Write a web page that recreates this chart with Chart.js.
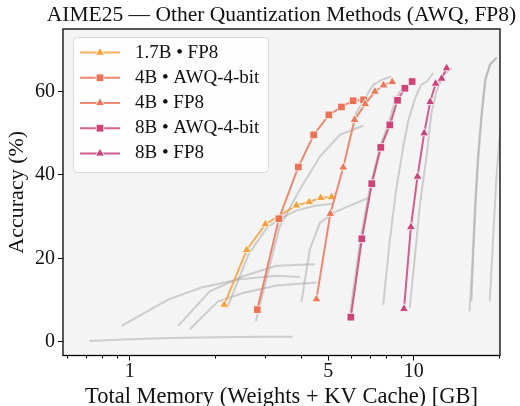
<!DOCTYPE html>
<html>
<head>
<meta charset="utf-8">
<script src="https://cdn.jsdelivr.net/npm/chart.js@4.4.1/dist/chart.umd.min.js"></script>
<style>
  html, body { margin: 0; padding: 0; background: #ffffff; }
  #wrap { width: 520px; height: 406px; }
</style>
</head>
<body>
<div id="wrap"><canvas id="chart" width="520" height="406"></canvas></div>
<script>
// ---- Series: total memory (GB) vs AIME25 accuracy (%) ----
const chartTitle = 'AIME25 — Other Quantization Methods (AWQ, FP8)';
const seriesLabels = ['1.7B • FP8', '4B • AWQ-4-bit', '4B • FP8', '8B • AWQ-4-bit', '8B • FP8'];

const mem17bFp8 = [2.15, 2.58, 3.0, 3.86, 4.28, 4.70, 5.13];
const acc17bFp8 = [8.9, 22.0, 28.2, 32.7, 33.5, 34.5, 34.7];

const mem4bAwq = [2.81, 3.35, 3.92, 4.44, 5.02, 5.56, 6.11, 6.65];
const acc4bAwq = [7.7, 29.5, 41.9, 49.6, 54.4, 56.3, 57.8, 58.0];

const mem4bFp8 = [4.54, 5.08, 5.64, 6.18, 6.74, 7.29, 7.82, 8.39];
const acc4bFp8 = [10.2, 30.7, 41.8, 53.2, 57.0, 60.0, 61.5, 62.3];

const mem8bAwq = [6.0, 6.56, 7.11, 7.65, 8.23, 8.76, 9.30, 9.86];
const acc8bAwq = [5.9, 24.7, 37.9, 46.6, 52.0, 57.9, 60.8, 62.4];

const mem8bFp8 = [9.23, 9.76, 10.3, 10.87, 11.41, 11.93, 12.52, 13.04];
const acc8bFp8 = [7.9, 27.5, 39.6, 50.0, 57.5, 61.9, 63.1, 65.6];

// Faint context curves (other model / precision configurations)
const contextMemory = [
  [0.72, 1.0, 1.4, 2.0, 3.0, 3.74],
  [0.935, 1.364, 1.788, 2.44, 3.28, 3.97],
  [1.479, 1.912, 2.506, 3.28, 4.48],
  [1.626, 2.046, 2.506, 3.28, 4.54],
  [2.2, 2.62, 3.05, 3.5, 3.9, 4.5, 5.2],
  [2.78, 3.05, 3.37, 3.97, 4.67, 5.49, 6.63],
  [4.02, 4.30, 4.67, 5.20, 5.8, 6.9],
  [6.1, 6.6, 7.19, 7.7, 8.34],
  [5.97, 6.48, 7.03, 7.58, 8.15, 8.65, 9.15],
  [7.8, 8.22, 8.68, 9.16, 9.54, 10.1, 10.6, 11.1, 11.7],
  [9.67, 10.1, 10.5, 11.1, 11.5, 12.0, 12.7, 13.6],
  [15.7, 16.0, 16.4, 16.8, 17.3, 17.8, 18.5, 19.5],
  [15.95, 16.15, 16.5, 16.9, 17.4, 17.9, 18.6, 19.6],
  [18.5, 19.0, 19.5, 20.0, 20.8, 21.5]
];
const contextAccuracy = [
  [0.2, 0.6, 0.9, 1.1, 1.2, 1.2],
  [3.8, 10.1, 13.0, 15.0, 15.8, 15.5],
  [3.8, 12.1, 15.7, 18.2, 18.6],
  [3.0, 9.7, 11.7, 13.5, 14.2],
  [8.0, 21.0, 27.5, 30.0, 31.6, 32.6, 33.1],
  [5.0, 16.0, 27.6, 36.5, 44.4, 49.6, 51.8],
  [9.5, 22.1, 28.5, 30.9, 32.3, 34.5],
  [53.5, 57.5, 61.6, 62.8, 63.6],
  [7.0, 24.5, 37.5, 46.5, 52.5, 58.5, 61.0],
  [8.9, 24.1, 36.9, 46.4, 52.8, 58.4, 61.6, 62.4, 64.4],
  [8.1, 20.9, 32.9, 44.8, 54.4, 60.0, 64.0, 65.6],
  [7.3, 16.5, 32.4, 44.4, 54.8, 62.8, 66.4, 68.0],
  [9.8, 19.5, 33.0, 45.0, 55.2, 63.0, 66.6, 68.2],
  [9.7, 24.5, 38.8, 48.4, 58.0, 64.0]
];

// Axis ticks
const xTickValues = [1, 5, 10];
const xMinorTickValues = [0.6, 0.7, 0.8, 0.9, 2, 3, 4, 6, 7, 8, 9, 20];
const yTickValues = [0, 20, 40, 60];

const SERIF = '"Liberation Serif", "Times New Roman", "DejaVu Serif", serif';

const seriesMemory = [mem17bFp8, mem4bAwq, mem4bFp8, mem8bAwq, mem8bFp8];
const seriesAccuracy = [acc17bFp8, acc4bAwq, acc4bFp8, acc8bAwq, acc8bFp8];
const seriesColor = ['#F7A13B', '#EC7256', '#EC7659', '#CE4477', '#CA4378'];
const seriesLineColor = ['rgba(247,161,59,0.85)', 'rgba(236,114,86,0.85)', 'rgba(236,118,89,0.85)',
                         'rgba(206,68,119,0.85)', 'rgba(202,67,120,0.85)'];
const seriesMarker = ['triangle', 'rect', 'triangle', 'rect', 'triangle'];
const markerRadius = { triangle: 5.2, rect: 5.4 };

const toPoints = (xs, ys) => xs.map((x, i) => ({ x: x, y: ys[i] }));

const datasets = [];
seriesLabels.forEach((label, i) => {
  datasets.push({
    label: label,
    data: toPoints(seriesMemory[i], seriesAccuracy[i]),
    borderColor: seriesLineColor[i],
    backgroundColor: seriesColor[i],
    borderWidth: 2,
    pointStyle: seriesMarker[i],
    pointRadius: markerRadius[seriesMarker[i]],
    pointBackgroundColor: seriesColor[i],
    pointBorderColor: '#ffffff',
    pointBorderWidth: 0.8,
    tension: 0,
    order: 5 - i
  });
});
contextMemory.forEach((xs, i) => {
  datasets.push({
    label: '',
    data: toPoints(xs, contextAccuracy[i]),
    borderColor: 'rgba(165,165,165,0.5)',
    borderWidth: 2,
    pointRadius: 0,
    tension: 0,
    clip: 0,
    order: 20
  });
});

// Light plot-area fill
const plotBackground = {
  id: 'plotBackground',
  beforeDraw(chart) {
    const { ctx, chartArea: a } = chart;
    ctx.save();
    ctx.fillStyle = '#f4f4f4';
    ctx.fillRect(a.left, a.top, a.right - a.left, a.bottom - a.top);
    ctx.restore();
  }
};

// Title centred over the plot area
const plotTitle = {
  id: 'plotTitle',
  afterDraw(chart) {
    const { ctx, chartArea: a } = chart;
    ctx.save();
    ctx.fillStyle = '#111';
    ctx.font = '21.5px ' + SERIF;
    ctx.textAlign = 'center';
    ctx.textBaseline = 'alphabetic';
    ctx.fillText(chartTitle, (a.left + a.right) / 2, 20.5);
    ctx.restore();
  }
};

// Axes frame and minor log ticks
const frameAndMinorTicks = {
  id: 'frameAndMinorTicks',
  afterDatasetsDraw(chart) {
    const { ctx, chartArea: a, scales } = chart;
    ctx.save();
    ctx.strokeStyle = '#000';
    ctx.lineWidth = 1;
    xMinorTickValues.forEach(v => {
      const px = Math.round(scales.x.getPixelForValue(v)) + 0.5;
      ctx.beginPath();
      ctx.moveTo(px, a.bottom);
      ctx.lineTo(px, a.bottom + 3);
      ctx.stroke();
    });
    ctx.lineWidth = 1.3;
    ctx.strokeRect(a.left, a.top, a.right - a.left, a.bottom - a.top);
    ctx.restore();
  }
};

// Legend box in the upper-left of the plot
const insetLegend = {
  id: 'insetLegend',
  afterDraw(chart) {
    const { ctx } = chart;
    const box = { x: 73, y: 37, w: 195, h: 135, r: 4 };
    ctx.save();
    ctx.beginPath();
    ctx.roundRect(box.x + 0.5, box.y + 0.5, box.w, box.h, box.r);
    ctx.fillStyle = 'rgba(255,255,255,0.85)';
    ctx.fill();
    ctx.strokeStyle = '#d9d9d9';
    ctx.lineWidth = 1;
    ctx.stroke();
    seriesLabels.forEach((label, i) => {
      const cy = 52.6 + i * 25.2;
      ctx.beginPath();
      ctx.strokeStyle = seriesLineColor[i];
      ctx.lineWidth = 2;
      ctx.moveTo(80, cy);
      ctx.lineTo(120, cy);
      ctx.stroke();
      ctx.fillStyle = seriesColor[i];
      ctx.strokeStyle = '#ffffff';
      ctx.lineWidth = 0.8;
      Chart.helpers.drawPoint(ctx, {
        pointStyle: seriesMarker[i],
        radius: markerRadius[seriesMarker[i]],
        rotation: 0,
        borderWidth: 0.8
      }, 100, cy);
      ctx.fillStyle = '#111';
      ctx.font = '19px ' + SERIF;
      ctx.textBaseline = 'middle';
      ctx.textAlign = 'left';
      ctx.fillText(label, 135, cy);
    });
    ctx.restore();
  }
};

new Chart(document.getElementById('chart'), {
  type: 'line',
  data: { datasets: datasets },
  options: {
    responsive: false,
    animation: false,
    events: [],
    layout: { padding: { left: 0, right: 20, top: 29, bottom: 0 } },
    plugins: {
      legend: { display: false },
      tooltip: { enabled: false },
      title: { display: false }
    },
    scales: {
      x: {
        type: 'logarithmic',
        min: 0.582,
        max: 20.1,
        afterBuildTicks: s => { s.ticks = xTickValues.map(v => ({ value: v, major: true })); },
        afterFit: s => { s.height = 50.5; },
        ticks: {
          autoSkip: false, maxRotation: 0, minRotation: 0, padding: 1, color: '#111',
          font: { family: SERIF, size: 20, lineHeight: 1 },
          callback: v => String(v)
        },
        grid: { display: true, drawOnChartArea: false, drawTicks: true, tickLength: 5, tickColor: '#000', tickWidth: 1 },
        border: { display: false },
        title: {
          display: true, text: 'Total Memory (Weights + KV Cache) [GB]', color: '#111',
          font: { family: SERIF, size: 22.5, lineHeight: 0.75 }, padding: 0
        }
      },
      y: {
        type: 'linear',
        min: -3.3,
        max: 75,
        afterBuildTicks: s => { s.ticks = yTickValues.map(v => ({ value: v })); },
        afterFit: s => { s.width = 63; },
        ticks: {
          padding: 3, color: '#111',
          font: { family: SERIF, size: 20, lineHeight: 1 },
          callback: v => String(v)
        },
        grid: { display: true, drawOnChartArea: false, drawTicks: true, tickLength: 5, tickColor: '#000', tickWidth: 1 },
        border: { display: false },
        title: {
          display: true, text: 'Accuracy (%)', color: '#111',
          font: { family: SERIF, size: 22, lineHeight: 1.2 }, padding: { top: 4.4, bottom: 0 }
        }
      }
    }
  },
  plugins: [plotBackground, frameAndMinorTicks, insetLegend, plotTitle]
});
</script>
</body>
</html>
